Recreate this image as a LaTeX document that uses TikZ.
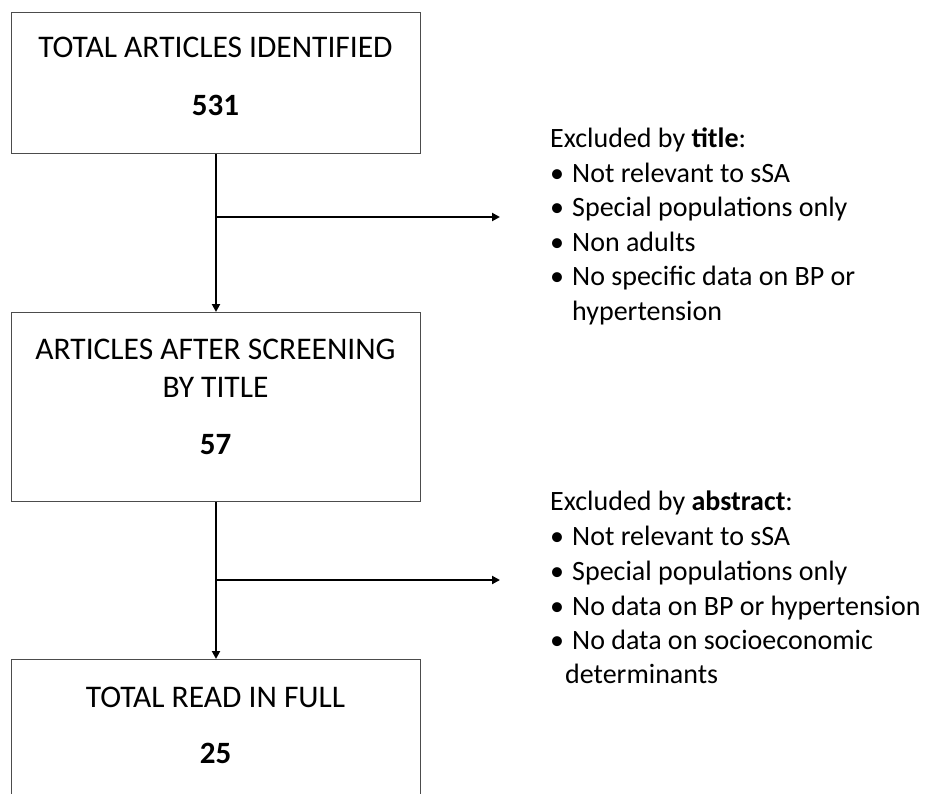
\documentclass[tikz,border=0pt]{standalone}
\usepackage{fontspec}
\setmainfont{Carlito}
\usetikzlibrary{arrows.meta}
\begin{document}
\begin{tikzpicture}[x=1pt,y=-1pt,
  box/.style={draw=black!70,line width=1.3pt,inner sep=0,anchor=north west},
  btext/.style={anchor=base,inner sep=0,font=\fontsize{31.5}{36}\selectfont},
  bnum/.style={anchor=base,inner sep=0,font=\fontsize{31}{36}\selectfont\bfseries},
  ltext/.style={anchor=base west,inner sep=0,font=\fontsize{28}{32}\selectfont},
  conn/.style={line width=2.8pt,-{Triangle[length=8pt,width=8pt]}}]
\useasboundingbox (0,0) rectangle (934,793);
\clip (0,0) rectangle (934,793);
% boxes
\node[box,minimum width=409pt,minimum height=141pt] (b1) at (11,12) {};
\node[box,minimum width=409pt,minimum height=189pt] (b2) at (11,312) {};
\node[box,minimum width=409pt,minimum height=180pt] (b3) at (11,659) {};
% box texts
\node[btext] (t1) at (215.5,57) {TOTAL ARTICLES IDENTIFIED};
\node[bnum] (n1) at (215.5,115) {531};
\node[btext] (t2a) at (215.5,359) {ARTICLES AFTER SCREENING};
\node[btext] (t2b) at (215.5,397) {BY TITLE};
\node[bnum] (n2) at (215.5,454) {57};
\node[btext] (t3) at (215.5,707) {TOTAL READ IN FULL};
\node[bnum] (n3) at (215.5,763) {25};
% branch points and free ends
\coordinate (j1) at (216,217);
\coordinate (e1) at (500,217);
\coordinate (j2) at (216,580);
\coordinate (e2) at (500,580);
% connectors
\draw[conn] (b1.south -| j1) -- (b2.north -| j1);
\draw[conn] (j1) -- (e1);
\draw[conn] (b2.south -| j2) -- (b3.north -| j2);
\draw[conn] (j2) -- (e2);
% exclusion list 1
\node[ltext] (x1) at (550,147) {Excluded by \textbf{title}:};
\node[ltext] (x1b1) at (550,182) {•};
\node[ltext] (x1l1) at (572,182) {Not relevant to sSA};
\node[ltext] (x1b2) at (550,216) {•};
\node[ltext] (x1l2) at (572,216) {Special populations only};
\node[ltext] (x1b3) at (550,251) {•};
\node[ltext] (x1l3) at (572,251) {Non adults};
\node[ltext] (x1b4) at (550,285) {•};
\node[ltext] (x1l4) at (572,285) {No specific data on BP or};
\node[ltext] (x1l5) at (572,320) {hypertension};
% exclusion list 2
\node[ltext] (x2) at (550,510) {Excluded by \textbf{abstract}:};
\node[ltext] (x2b1) at (550,545) {•};
\node[ltext] (x2l1) at (572,545) {Not relevant to sSA};
\node[ltext] (x2b2) at (550,580) {•};
\node[ltext] (x2l2) at (572,580) {Special populations only};
\node[ltext] (x2b3) at (550,615) {•};
\node[ltext] (x2l3) at (572,615) {No data on BP or hypertension};
\node[ltext] (x2b4) at (550,649) {•};
\node[ltext] (x2l4) at (572,649) {No data on socioeconomic};
\node[ltext] (x2l5) at (565,683) {determinants};
\end{tikzpicture}
\end{document}
